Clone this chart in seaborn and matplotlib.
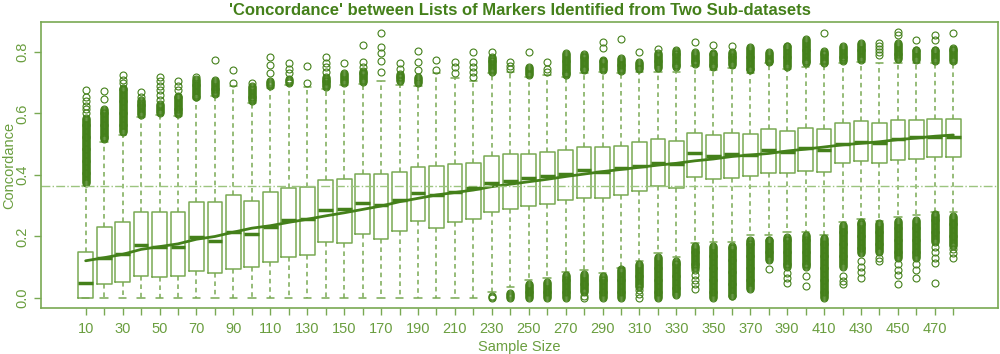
import numpy as np
import pandas as pd
import seaborn as sns
import matplotlib.pyplot as plt

# sample sizes on the x axis
sample_size = list(range(10, 490, 10))

# box statistics
q1 = [0.0, 0.044, 0.053, 0.073, 0.068, 0.072, 0.089, 0.08, 0.094, 0.10,
      0.116, 0.132, 0.14, 0.183, 0.18, 0.207, 0.192, 0.218, 0.249, 0.227,
      0.246, 0.257, 0.281, 0.289, 0.30, 0.307, 0.319, 0.326, 0.324, 0.335,
      0.349, 0.364, 0.357, 0.392, 0.387, 0.391, 0.397, 0.408, 0.408, 0.414,
      0.409, 0.438, 0.447, 0.44, 0.449, 0.451, 0.46, 0.458]
median = [0.05, 0.131, 0.142, 0.172, 0.167, 0.165, 0.197, 0.186, 0.214, 0.208,
          0.232, 0.254, 0.256, 0.287, 0.29, 0.31, 0.302, 0.319, 0.34, 0.335,
          0.346, 0.357, 0.373, 0.381, 0.389, 0.397, 0.403, 0.415, 0.411, 0.422,
          0.429, 0.44, 0.436, 0.47, 0.462, 0.467, 0.465, 0.481, 0.476, 0.489,
          0.481, 0.50, 0.508, 0.505, 0.517, 0.523, 0.525, 0.523]
q3 = [0.149, 0.232, 0.247, 0.281, 0.281, 0.281, 0.313, 0.312, 0.334, 0.315,
      0.345, 0.358, 0.36, 0.383, 0.386, 0.404, 0.402, 0.411, 0.426, 0.43,
      0.435, 0.44, 0.462, 0.469, 0.469, 0.475, 0.48, 0.49, 0.49, 0.495,
      0.506, 0.516, 0.512, 0.538, 0.53, 0.536, 0.532, 0.55, 0.544, 0.552,
      0.55, 0.57, 0.576, 0.57, 0.579, 0.579, 0.582, 0.582]
whisker_low = [0.0] * 22 + [0.02, 0.037, 0.058, 0.066, 0.083, 0.091, 0.08, 0.096,
                            0.121, 0.145, 0.132, 0.178, 0.183, 0.181, 0.205, 0.205,
                            0.216, 0.216, 0.205, 0.248, 0.256, 0.25, 0.264, 0.27,
                            0.279, 0.281]
whisker_high = [0.365, 0.508, 0.53, 0.588, 0.595, 0.593, 0.647, 0.657, 0.689, 0.633,
                0.682, 0.692, 0.685, 0.679, 0.693, 0.695, 0.706, 0.693, 0.689, 0.732,
                0.715, 0.706, 0.731, 0.736, 0.72, 0.725, 0.72, 0.733, 0.736, 0.731,
                0.736, 0.736, 0.736, 0.755, 0.741, 0.747, 0.731, 0.752, 0.744, 0.752,
                0.76, 0.763, 0.768, 0.763, 0.765, 0.763, 0.763, 0.763]

# outliers: dense clusters (from, to) and single circles
upper_dense = [(0.375, 0.585), (0.516, 0.617), (0.54, 0.685), (0.596, 0.644),
               (0.603, 0.63), (0.598, 0.66), (0.652, 0.714), (0.663, 0.709),
               None, (0.64, 0.69), (0.69, 0.705), (0.70, 0.712), None,
               (0.686, 0.72), (0.70, 0.73), (0.703, 0.74), None, (0.705, 0.73),
               (0.70, 0.72), None, None, None, (0.736, 0.785), None,
               (0.726, 0.752), None, (0.724, 0.796), (0.74, 0.796), (0.742, 0.775),
               (0.738, 0.78), (0.745, 0.768), (0.748, 0.796), (0.75, 0.809),
               (0.76, 0.80), (0.75, 0.80), (0.758, 0.80), (0.74, 0.817),
               (0.76, 0.80), (0.752, 0.823), (0.763, 0.841), (0.765, 0.806),
               (0.77, 0.82), (0.775, 0.83), None, (0.777, 0.83), (0.775, 0.81),
               (0.772, 0.81), (0.772, 0.816)]
upper_single = [[0.60, 0.615, 0.625, 0.64, 0.655, 0.675], [0.646, 0.674],
                [0.70, 0.71, 0.725], [0.655, 0.671],
                [0.645, 0.66, 0.675, 0.69, 0.705, 0.72], [0.676, 0.689, 0.707],
                [0.72], [0.774], [0.698, 0.741], [0.698],
                [0.731, 0.758, 0.785], [0.73, 0.745, 0.765], [0.698, 0.754],
                [0.735, 0.75, 0.765, 0.783], [0.764], [0.75, 0.768, 0.823],
                [0.736, 0.772, 0.796, 0.817, 0.861], [0.745, 0.765],
                [0.74, 0.768, 0.804], [0.74, 0.774], [0.733, 0.75, 0.768],
                [0.72, 0.735, 0.75, 0.768, 0.801], [0.801], [0.745, 0.755, 0.766],
                [0.801], [0.735, 0.745, 0.768], [], [], [0.812, 0.834], [0.842],
                [0.801], [0.81], [], [0.834], [0.823], [0.82], [], [], [], [],
                [0.861], [], [], [0.79, 0.80, 0.81, 0.82, 0.83], [0.855, 0.866],
                [0.839], [0.839, 0.855], [0.861]]
lower_dense = [None] * 22 + [(0.0, 0.008), (0.0, 0.017), (0.0, 0.045), (0.0, 0.053),
                             (0.0, 0.076), (0.02, 0.078), (0.0, 0.073), (0.0, 0.093),
                             (0.037, 0.11), (0.0, 0.134), (0.01, 0.122), (0.097, 0.17),
                             (0.0, 0.17), (0.005, 0.171), (0.03, 0.19), (0.124, 0.19),
                             (0.10, 0.20), (0.10, 0.205), (0.0, 0.195), (0.102, 0.238),
                             (0.146, 0.25), (0.15, 0.243), (0.13, 0.25), (0.13, 0.255),
                             (0.183, 0.273), (0.17, 0.268)]
lower_single = [[]] * 27 + [[0.0, 0.008], [], [], [0.025, 0.012, 0.0], [], [],
                            [0.09, 0.075, 0.06, 0.045, 0.03], [], [], [], [0.093],
                            [0.08, 0.065, 0.049], [0.07, 0.039], [],
                            [0.07, 0.055, 0.045], [0.12, 0.10, 0.085, 0.065],
                            [0.13, 0.12], [0.11, 0.09, 0.075, 0.045],
                            [0.11, 0.09, 0.065], [0.165, 0.15, 0.13, 0.115, 0.049],
                            [0.16, 0.145, 0.13]]

# the line running through the boxes
mean_line = [0.121, 0.131, 0.142, 0.158, 0.167, 0.176, 0.191, 0.200, 0.214, 0.227,
             0.235, 0.246, 0.256, 0.267, 0.277, 0.288, 0.299, 0.313, 0.324, 0.335,
             0.343, 0.351, 0.362, 0.370, 0.378, 0.386, 0.395, 0.403, 0.411, 0.418,
             0.425, 0.432, 0.438, 0.446, 0.452, 0.460, 0.465, 0.470, 0.478, 0.484,
             0.491, 0.498, 0.503, 0.508, 0.515, 0.520, 0.526, 0.530]
reference_level = 0.365

DARK = '#44801A'
BOX = '#79A953'
TEXT = '#6A9E3F'
LIGHT = '#9CC47F'

# rebuild a sample per group that gives the read statistics
M = 400
rows = []
for i, s in enumerate(sample_size):
    vals = [whisker_low[i], whisker_high[i]] + [q1[i]] * M + [median[i]] * M + [q3[i]] * M
    for rng in (upper_dense[i], lower_dense[i]):
        if rng is not None:
            vals += list(np.arange(rng[0], rng[1] + 1e-9, 0.003))
    vals += upper_single[i] + lower_single[i]
    rows += [(s, v) for v in vals]
df = pd.DataFrame(rows, columns=['size', 'concordance'])

sns.set_theme(style='white')
plt.rcParams['font.family'] = ['Liberation Sans', 'DejaVu Sans']

fig = plt.figure(figsize=(10, 3.54), dpi=100)
ax = fig.add_axes([0.041, 0.13, 0.957, 0.808])

sns.boxplot(data=df, x='size', y='concordance', order=sample_size, ax=ax,
            width=0.8, fill=False, color=BOX, linewidth=1.1, whis=1.5,
            whiskerprops=dict(color=BOX, linestyle=(0, (3, 2.5))),
            capprops=dict(color=BOX),
            medianprops=dict(color=DARK, linewidth=2.5),
            flierprops=dict(marker='o', markerfacecolor='none', markeredgecolor=DARK,
                            markersize=5, markeredgewidth=0.8))
sns.lineplot(x=np.arange(len(sample_size)), y=mean_line, ax=ax, color=DARK, linewidth=2)
ax.axhline(reference_level, color=LIGHT, linestyle='-.', linewidth=1)

ax.set_xlim(-2.42, 49.42)
ax.set_ylim(-0.0325, 0.8976)
ax.set_xticks(np.arange(len(sample_size)))
ax.set_xticklabels([str(s) if k % 2 == 0 else '' for k, s in enumerate(sample_size)])
ax.set_yticks([0.0, 0.2, 0.4, 0.6, 0.8])
ax.set_yticklabels(['0.0', '0.2', '0.4', '0.6', '0.8'], rotation=90, va='center')
ax.tick_params(axis='both', colors=BOX, labelcolor=TEXT, labelsize=10.5,
               length=5, width=1, direction='out', bottom=True, left=True)
ax.tick_params(axis='x', pad=5)
for sp in ax.spines.values():
    sp.set_color(BOX)
    sp.set_linewidth(1.2)

ax.set_xlabel('Sample Size', color=TEXT, fontsize=10.5, labelpad=3)
ax.set_ylabel('Concordance', color=TEXT, fontsize=10.5)
ax.yaxis.set_label_coords(-0.026, 0.5)
ax.set_title("'Concordance' between Lists of Markers Identified from Two Sub-datasets",
             color=DARK, fontsize=12, fontweight='bold', pad=5)

fig.savefig('out.png', dpi=100)
